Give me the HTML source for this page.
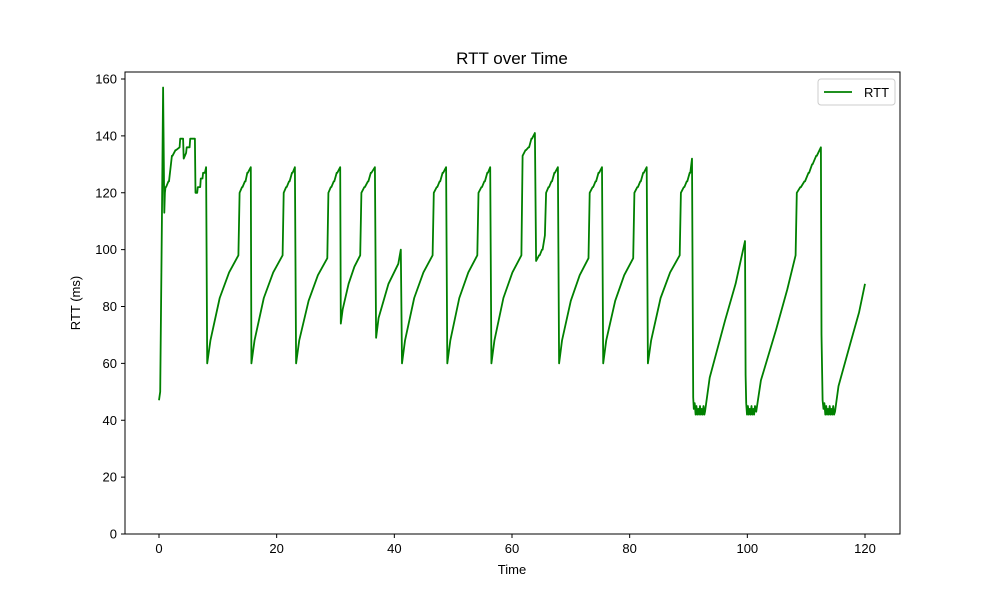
<!DOCTYPE html>
<html><head><meta charset="utf-8"><style>
body{margin:0;background:#fff;}
svg{display:block;font-family:"Liberation Sans","DejaVu Sans",sans-serif;}
</style></head><body>
<svg id="chart" width="1000" height="600">
<rect x="0" y="0" width="1000" height="600" fill="#fff"/>
<text x="512" y="64" text-anchor="middle" font-size="17">RTT over Time</text>
<g id="plot"></g>
<rect x="125" y="72" width="775" height="462" fill="none" stroke="#000" stroke-width="1"/>
<g id="xt"></g><g id="yt"></g>
<text x="512" y="574" text-anchor="middle" font-size="13">Time</text>
<text x="80" y="303" text-anchor="middle" font-size="13" transform="rotate(-90 80 303)">RTT (ms)</text>
<g>
<rect x="818" y="79" width="77" height="26" rx="3" fill="#fff" stroke="#ccc"/>
<line x1="824" y1="92" x2="852" y2="92" stroke="#008000" stroke-width="1.8"/>
<text x="864" y="97" font-size="13">RTT</text>
</g>
</svg>
<script>
const xTicks=[0,20,40,60,80,100,120];
const yTicks=[0,20,40,60,80,100,120,140,160];
const times=[0,0.2,0.5,0.7,0.9,1.0,1.1,1.2,1.6,1.7,2.2,2.3,2.8,2.9,3.5,3.6,4.1,4.2,4.6,4.7,5.2,5.3,6.1,6.2,6.5,6.6,7.0,7.1,7.4,7.5,7.8,8.0,8.2,
8.73,10.32,11.91,
13.5,13.7,14.1,14.2,14.6,14.7,15.0,15.1,15.6,15.7,
16.23,17.82,19.41,
21.0,21.2,21.6,21.7,22.1,22.2,22.6,22.7,23.1,23.3,
23.83,25.42,27.01,
28.6,28.8,29.2,29.3,29.7,29.8,30.2,30.3,30.8,30.9,
31.23,32.22,33.21,
34.2,34.4,34.9,35.0,35.5,35.6,36.0,36.1,36.7,36.9,
37.32,39.0,40.68,
41.1,41.3,
41.82,43.38,44.94,
46.5,46.7,47.2,47.3,47.7,47.8,48.2,48.3,48.8,49.0,
49.51,51.04,52.57,
54.1,54.3,54.8,54.9,55.3,55.4,55.8,55.9,56.3,56.5,
57.01,58.54,60.07,
61.6,61.8,62.3,62.4,62.8,62.9,63.3,63.4,63.9,64.1,64.6,64.7,65.1,65.2,65.6,65.8,66.2,66.3,66.7,66.8,67.2,67.3,67.8,68.0,
68.5,70.0,71.5,
73.0,73.2,73.7,73.8,74.2,74.3,74.7,74.8,75.3,75.5,
76.01,77.54,79.07,
80.6,80.8,81.3,81.4,81.8,81.9,82.3,82.4,82.9,83.1,
83.64,85.26,86.88,
88.5,88.7,89.2,89.3,89.7,89.8,90.2,90.3,90.6,90.8,90.9,91.05,91.2,91.35,91.5,91.65,91.8,91.95,92.1,92.25,92.4,92.55,92.7,92.8,
93.6,96.2,98.0,
99.6,99.7,99.8,99.95,100.1,100.25,100.4,100.55,100.7,100.85,101.0,101.15,101.3,101.5,
102.3,104.9,106.8,
108.2,108.4,109.0,109.1,109.7,109.8,110.4,110.5,111.0,111.1,111.7,111.8,112.5,112.6,112.8,112.95,113.1,113.25,113.4,113.55,113.7,113.85,114.0,114.15,114.3,114.45,114.6,114.75,114.9,
115.5,117.5,119.0,
120];
const rtt=[47,50,110,157,113,120,122,122,124,124,133,133,135,135,136,139,139,132,134,136,136,139,139,120,120,122,122,125,125,127,127,129,60,
68,83,92,
98,120,122,122,124,124,127,127,129,60,
68,83,92,
98,120,122,122,124,124,127,127,129,60,
68,82,91,
97,120,122,122,124,124,127,127,129,74,
79,88,94,
98,120,122,122,124,124,127,127,129,69,
76,88,95,
100,60,
68,83,92,
98,120,122,122,124,124,127,127,129,60,
68,83,92,
98,120,122,122,124,124,127,127,129,60,
68,83,92,
98,133,135,135,136,136,139,139,141,96,98,98,100,100,105,120,122,122,124,124,127,127,129,60,
68,82,91,
97,120,122,122,124,124,127,127,129,60,
68,82,91,
97,120,122,122,124,124,127,127,129,60,
68,83,92,
98,120,122,122,124,124,127,127,132,48,44,46,42,45,42,44,42,45,42,44,42,45,42,43,
55,75,88,
103,56,46,42,45,42,44,42,45,42,44,42,45,43,
54,72,86,
98,120,122,122,124,124,127,127,130,130,133,133,136,70,47,44,46,42,45,42,44,42,45,42,44,42,45,42,43,
52,67,78,
88];
const X=t=>159+(t/120)*706;
const Y=v=>534-(v/160)*455;
const NS="http://www.w3.org/2000/svg";
const plot=document.getElementById('plot');
let d="";
for(let i=0;i<times.length;i++){d+=(i?"L":"M")+X(times[i]).toFixed(1)+","+Y(rtt[i]).toFixed(1);}
const p=document.createElementNS(NS,'path');
p.setAttribute('d',d);p.setAttribute('fill','none');p.setAttribute('stroke','#008000');p.setAttribute('stroke-width','1.8');p.setAttribute('stroke-linejoin','round');


plot.appendChild(p);
const xt=document.getElementById('xt');
xTicks.forEach(t=>{
 const l=document.createElementNS(NS,'line');
 l.setAttribute('x1',X(t));l.setAttribute('x2',X(t));l.setAttribute('y1',534);l.setAttribute('y2',538);l.setAttribute('stroke','#000');
 
 
 xt.appendChild(l);
 const tx=document.createElementNS(NS,'text');
 tx.setAttribute('x',X(t));tx.setAttribute('y',553);tx.setAttribute('text-anchor','middle');tx.setAttribute('font-size','13');tx.textContent=t;
 
 
 xt.appendChild(tx);
});
const yt=document.getElementById('yt');
yTicks.forEach(v=>{
 const l=document.createElementNS(NS,'line');
 l.setAttribute('x1',121);l.setAttribute('x2',125);l.setAttribute('y1',Y(v));l.setAttribute('y2',Y(v));l.setAttribute('stroke','#000');
 
 
 yt.appendChild(l);
 const tx=document.createElementNS(NS,'text');
 tx.setAttribute('x',117);tx.setAttribute('y',Y(v)+4.5);tx.setAttribute('text-anchor','end');tx.setAttribute('font-size','13');tx.textContent=v;
 
 
 yt.appendChild(tx);
});
</script>
</body></html>
